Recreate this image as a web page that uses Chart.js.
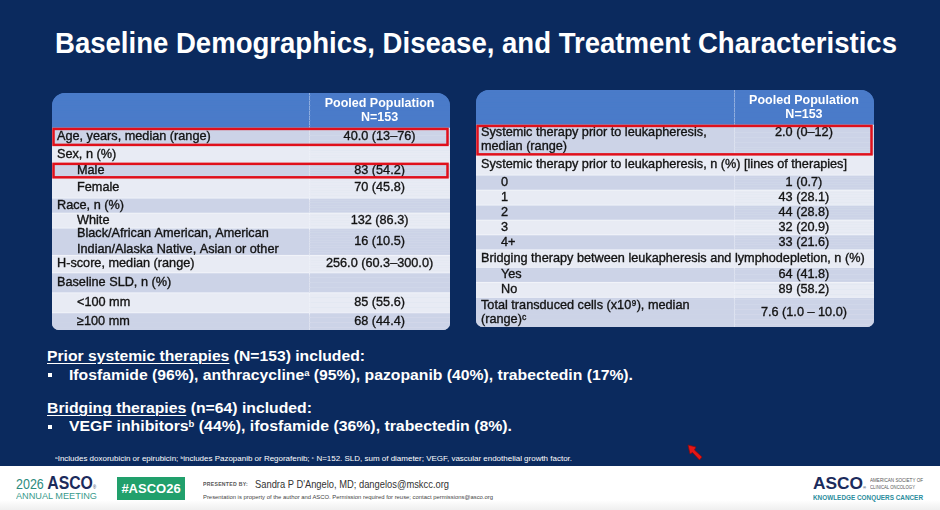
<!DOCTYPE html>
<html>
<head>
<meta charset="utf-8">
<title>Baseline Demographics, Disease, and Treatment Characteristics</title>
<script src="https://cdn.jsdelivr.net/npm/chart.js@4.4.1/dist/chart.umd.min.js"></script>
<style>
  html, body { margin: 0; padding: 0; }
  body { width: 940px; height: 510px; background: #0b2a5e; position: relative; overflow: hidden;
         font-family: "Liberation Sans", Arial, sans-serif; }
  .t { position: absolute; white-space: nowrap; transform-origin: 0 0; }
  .title { left: 55px; top: 29px; font-size: 29px; line-height: 29px; font-weight: bold; color: #fff; }
  .txt { font-size: 13.8px; line-height: 13.8px; font-weight: bold; color: #fff; }
  .u { text-decoration: underline; text-underline-offset: 2px; text-decoration-thickness: 1px; }
  sup { font-size: 0.6em; vertical-align: 0; position: relative; top: -0.5em; }
  .bullet { position: absolute; width: 4px; height: 4px; background: #fff; }
  .tbl { position: absolute; width: 398px; height: 237px; overflow: hidden; border-radius: 13px 13px 7px 7px;
         background: linear-gradient(#4a7bc9 0 35px, #dce1ee 35px); }
  .foot { position: absolute; left: 0; top: 466px; width: 940px; height: 44px;
          background: linear-gradient(#ffffff 0 34px, #efefef); }
  .green { position: absolute; left: 117px; top: 477px; width: 68px; height: 23px; background: #21a06c;
           color: #fff; font-weight: bold; font-size: 13px; line-height: 23px; text-align: center; }
</style>
</head>
<body>

<div class="t title" data-w="842">Baseline Demographics, Disease, and Treatment Characteristics</div>

<div class="tbl" style="left:52px; top:93px;"><canvas id="demo"></canvas></div>
<div class="tbl" style="left:476px; top:90px;"><canvas id="tx"></canvas></div>

<div class="t txt" style="left:47px; top:350px;" data-w="318"><span class="u">Prior systemic therapies</span> (N=153) included:</div>
<div class="bullet" style="left:48px; top:373px;"></div>
<div class="t txt" style="left:69px; top:369px;" data-w="564">Ifosfamide (96%), anthracycline<sup>a</sup> (95%), pazopanib (40%), trabectedin (17%).</div>
<div class="t txt" style="left:47px; top:402px;" data-w="265"><span class="u">Bridging therapies</span> (n=64) included:</div>
<div class="bullet" style="left:48px; top:425px;"></div>
<div class="t txt" style="left:69px; top:420px;" data-w="443">VEGF inhibitors<sup>b</sup> (44%), ifosfamide (36%), trabectedin (8%).</div>

<div class="t" style="left:55px; top:455px; font-size:7px; line-height:7px; color:#fff;" data-w="517"><sup>a</sup>Includes doxorubicin or epirubicin; <sup>b</sup>includes Pazopanib or Regorafenib; <sup>c</sup> N=152. SLD, sum of diameter; VEGF, vascular endothelial growth factor.</div>

<svg style="position:absolute; left:686px; top:443px;" width="18" height="20" viewBox="0 0 18 20">
  <polygon points="2,2 10,4 8.5,7 16,14 13.5,17 6.5,9.5 4,11" fill="#e51616" stroke="#8a0a0a" stroke-width="0.7" stroke-linejoin="round"/>
</svg>

<div class="foot"></div>
<div class="t" style="left:16px; top:473px; line-height:19px;" data-w="80"><span style="color:#2b8b7c; font-size:15px;">2026 </span><span style="color:#1b2b5c; font-size:19px; font-weight:bold;">ASCO</span><span style="color:#1b2b5c; font-size:5px;">®</span></div>
<div class="t" style="left:16px; top:492px; font-size:9px; line-height:9px; color:#3a9a8c;" data-w="81">ANNUAL MEETING</div>
<div class="green">#ASCO26</div>
<div class="t" style="left:203px; top:482px; font-size:5.5px; line-height:5.5px; color:#555; font-weight:bold; letter-spacing:0.3px;" data-w="45">PRESENTED BY:</div>
<div class="t" style="left:255px; top:479px; font-size:11.5px; line-height:11.5px; color:#333;" data-w="194">Sandra P D'Angelo, MD; dangelos@mskcc.org</div>
<div class="t" style="left:203px; top:495px; font-size:5.5px; line-height:5.5px; color:#444;" data-w="290">Presentation is property of the author and ASCO. Permission required for reuse; contact permissions@asco.org</div>
<div class="t" style="left:813px; top:475px; font-size:17px; line-height:17px; color:#1b2b5c; font-weight:bold;" data-w="53">ASCO<span style="font-size:4px;">®</span></div>
<div class="t" style="left:870px; top:478px; font-size:5px; line-height:5px; color:#555;" data-w="53">AMERICAN SOCIETY OF</div>
<div class="t" style="left:870px; top:485px; font-size:5px; line-height:5px; color:#555;" data-w="45">CLINICAL ONCOLOGY</div>
<div class="t" style="left:813px; top:495px; font-size:6.5px; line-height:6.5px; color:#2b8c9c; font-weight:bold;" data-w="110">KNOWLEDGE CONQUERS CANCER</div>

<script>
// ---- left table: demographics / disease ----
const demoLabels = [
  'Age, years, median (range)', 'Sex, n (%)', 'Male', 'Female', 'Race, n (%)', 'White',
  'Black/African American, American\nIndian/Alaska Native, Asian or other',
  'H-score, median (range)', 'Baseline SLD, n (%)', '<100 mm', '≥100 mm'
];
const demoValues = ['40.0 (13–76)', '', '83 (54.2)', '70 (45.8)', '', '132 (86.3)', '16 (10.5)',
  '256.0 (60.3–300.0)', '', '85 (55.6)', '68 (44.4)'];
const demoIndent = [0, 0, 1, 1, 0, 1, 1, 0, 0, 1, 1];
const demoBoxed = [0, 2];

// ---- right table: treatment ----
const txLabels = [
  'Systemic therapy prior to leukapheresis,\nmedian (range)',
  'Systemic therapy prior to leukapheresis, n (%) [lines of therapies]',
  '0', '1', '2', '3', '4+',
  'Bridging therapy between leukapheresis and lymphodepletion, n (%)',
  'Yes', 'No',
  'Total transduced cells (x10⁹), median\n(range)ᶜ'
];
const txValues = ['2.0 (0–12)', '', '1 (0.7)', '43 (28.1)', '44 (28.8)', '32 (20.9)', '33 (21.6)',
  '', '64 (41.8)', '89 (58.2)', '7.6 (1.0 – 10.0)'];
const txIndent = [0, 0, 1, 1, 1, 1, 1, 0, 1, 1, 0];
const txSpan = [1, 7];   // rows written across both columns
const txBoxed = [0];

const headerText = ['Pooled Population', 'N=153'];

// layout: row heights in slots, header slots
const HEAD_UNITS = 14;
const demoRowUnits = [7, 7, 6, 8, 6, 6, 11, 7, 8, 8, 7];
const txRowUnits = [12, 8, 6, 6, 6, 6, 6, 7, 6, 6, 12];

const FONT = '"Liberation Sans", Arial, sans-serif';

function makeTable(id, t) {
  const slotRow = [];
  for (let i = 0; i < HEAD_UNITS; i++) slotRow.push(-1);
  const rowStart = [];
  t.units.forEach((u, r) => {
    rowStart.push(slotRow.length);
    for (let i = 0; i < u; i++) slotRow.push(r);
  });
  const isFirst = i => i > 0 && slotRow[i] !== slotRow[i - 1];
  const fill = i => slotRow[i] < 0 ? '#4a7bc9' : (slotRow[i] % 2 === 0 ? '#ccd3e7' : '#e8ebf4');
  const spans = i => t.span.includes(slotRow[i]);

  const cellText = {
    id: 'cellText',
    afterDatasetsDraw(chart) {
      const {ctx, chartArea: a, scales: {x, y}} = chart;
      const slotH = y.getPixelForValue(1) - y.getPixelForValue(0);
      const top = r => y.getPixelForValue(r < 0 ? 0 : rowStart[r]) - slotH / 2;
      const valX = x.getPixelForValue((t.split + 1) / 2);
      const put = (s, px, py) => { ctx.fillText(s, px, py); ctx.strokeText(s, px, py); };
      ctx.save();
      ctx.textBaseline = 'middle';
      ctx.lineWidth = 0.35;

      // header
      ctx.fillStyle = ctx.strokeStyle = '#fff';
      ctx.font = 'bold 12.5px ' + FONT;
      ctx.textAlign = 'center';
      const hMid = top(-1) + HEAD_UNITS * slotH / 2;
      headerText.forEach((s, k) => ctx.fillText(s, valX, hMid + (k - 0.5) * 14));

      // body
      ctx.font = '12.7px ' + FONT;
      ctx.fillStyle = ctx.strokeStyle = '#131313';
      t.labels.forEach((lab, r) => {
        const cy = top(r) + t.units[r] * slotH / 2;
        const lines = lab.split('\n');
        const off = (lines.length - 1) / 2 * t.lineGap;
        ctx.textAlign = 'left';
        lines.forEach((s, k) => put(s, a.left + 5 + t.indent[r] * 20, cy - off + k * t.lineGap));
        if (t.values[r]) {
          ctx.textAlign = 'center';
          put(t.values[r], valX, t.valueTop.includes(r) ? cy - off : cy);
        }
      });

      // red outlines
      ctx.strokeStyle = '#e0101b';
      ctx.lineWidth = 2.5;
      t.boxed.forEach(r => {
        ctx.strokeRect(a.left + 1.5, top(r) + 1, a.right - a.left - 4, t.units[r] * slotH - 1.5);
      });
      ctx.restore();
    }
  };

  return new Chart(document.getElementById(id), {
    type: 'bar',
    data: {
      labels: slotRow.map((r, i) => i),
      datasets: [
        {
          data: slotRow.map(() => t.split),
          backgroundColor: c => fill(c.dataIndex),
          borderColor: '#f4f6fb',
          borderSkipped: false,
          borderWidth: c => ({top: isFirst(c.dataIndex) ? 1 : 0, left: 0, right: 0, bottom: 0})
        },
        {
          data: slotRow.map(() => 1 - t.split),
          backgroundColor: c => fill(c.dataIndex),
          borderColor: '#f4f6fb',
          borderSkipped: false,
          borderWidth: c => ({top: isFirst(c.dataIndex) ? 1 : 0, left: spans(c.dataIndex) ? 0 : 1, right: 0, bottom: 0})
        }
      ]
    },
    options: {
      indexAxis: 'y',
      responsive: true,
      maintainAspectRatio: false,
      animation: false,
      events: [],
      layout: { padding: 0 },
      datasets: { bar: { categoryPercentage: 1, barPercentage: 1 } },
      scales: {
        x: { display: false, stacked: true, min: 0, max: 1 },
        y: { display: false, stacked: true }
      },
      plugins: { legend: { display: false }, tooltip: { enabled: false } }
    },
    plugins: [cellText]
  });
}

makeTable('demo', {
  labels: demoLabels, values: demoValues, indent: demoIndent, boxed: demoBoxed,
  span: [], valueTop: [], units: demoRowUnits, split: 0.646, lineGap: 16
});
makeTable('tx', {
  labels: txLabels, values: txValues, indent: txIndent, boxed: txBoxed,
  span: txSpan, valueTop: [0], units: txRowUnits, split: 0.648, lineGap: 14
});

// squeeze text lines to the slide's widths
document.querySelectorAll('[data-w]').forEach(el => {
  const w = el.getBoundingClientRect().width;
  el.style.transform = 'scaleX(' + (el.dataset.w / w) + ')';
});
</script>
</body>
</html>
